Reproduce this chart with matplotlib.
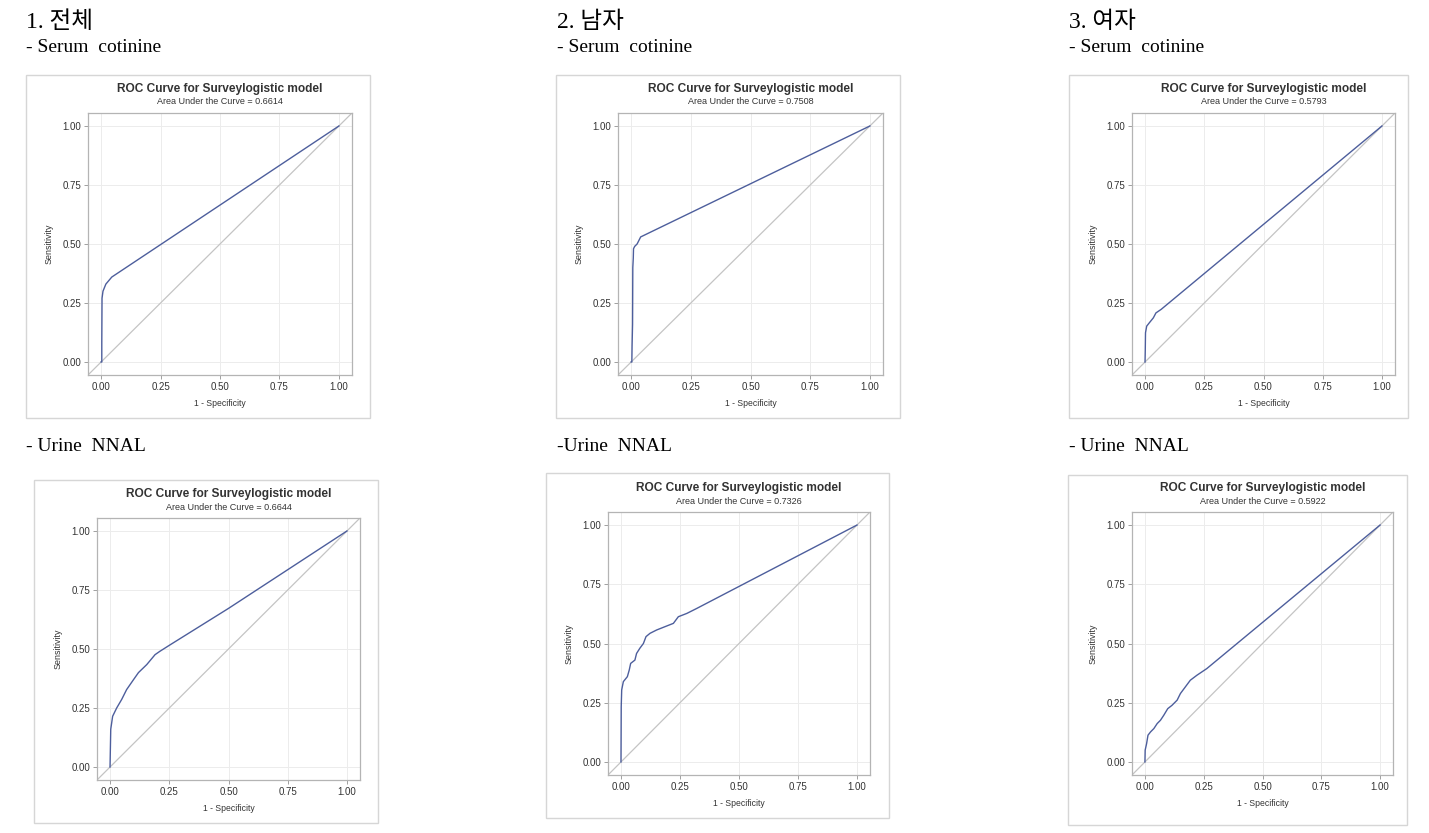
import matplotlib
matplotlib.use("Agg")
import matplotlib.pyplot as plt
from matplotlib.patches import Rectangle

W, H = 1429, 833

# ---- data ----
headers = ["1. 전체", "2. 남자", "3. 여자"]
serum_labels = ["- Serum  cotinine", "- Serum  cotinine", "- Serum  cotinine"]
urine_labels = ["- Urine  NNAL", "-Urine  NNAL", "- Urine  NNAL"]
auc_values = ["0.6614", "0.7508", "0.5793", "0.6644", "0.7326", "0.5922"]

serum_total_fpr = [0, 0.003, 0.003, 0.004, 0.008, 0.02, 0.045, 1.0]
serum_total_tpr = [0, 0.0, 0.08, 0.27, 0.30, 0.33, 0.36, 1.0]

serum_male_fpr = [0, 0.003, 0.004, 0.006, 0.007, 0.009, 0.01, 0.015, 0.025, 0.035, 0.04, 1.0]
serum_male_tpr = [0, 0.0, 0.07, 0.16, 0.40, 0.44, 0.48, 0.49, 0.50, 0.52, 0.53, 1.0]

serum_female_fpr = [0, 0.001, 0.002, 0.007, 0.018, 0.035, 0.046, 0.068, 1.0]
serum_female_tpr = [0, 0.05, 0.124, 0.152, 0.166, 0.187, 0.208, 0.223, 1.0]

urine_total_fpr = [0, 0.003, 0.011, 0.028, 0.049, 0.07, 0.099, 0.12, 0.155, 0.19, 0.21, 0.254, 0.5, 0.75, 1.0]
urine_total_tpr = [0, 0.16, 0.215, 0.25, 0.286, 0.328, 0.37, 0.40, 0.434, 0.476, 0.49, 0.518, 0.672, 0.836, 1.0]

urine_male_fpr = [0, 0.001, 0.003, 0.01, 0.027, 0.035, 0.041, 0.059, 0.066, 0.08, 0.095, 0.106,
                  0.123, 0.151, 0.194, 0.222, 0.243, 0.279, 0.321, 1.0]
urine_male_tpr = [0, 0.233, 0.304, 0.339, 0.36, 0.388, 0.416, 0.43, 0.458, 0.48, 0.50, 0.529,
                  0.543, 0.557, 0.574, 0.585, 0.613, 0.627, 0.648, 1.0]

urine_female_fpr = [0, 0.001, 0.007, 0.013, 0.024, 0.038, 0.052, 0.066, 0.08, 0.097, 0.115, 0.137,
                    0.151, 0.172, 0.193, 0.221, 0.263, 1.0]
urine_female_tpr = [0, 0.05, 0.077, 0.113, 0.127, 0.141, 0.162, 0.176, 0.197, 0.225, 0.239, 0.261,
                    0.289, 0.317, 0.345, 0.366, 0.394, 1.0]

curves = [
    (serum_total_fpr, serum_total_tpr),
    (serum_male_fpr, serum_male_tpr),
    (serum_female_fpr, serum_female_tpr),
    (urine_total_fpr, urine_total_tpr),
    (urine_male_fpr, urine_male_tpr),
    (urine_female_fpr, urine_female_tpr),
]

ticks = [0, 0.25, 0.5, 0.75, 1.0]
tick_labels = ["0.00", "0.25", "0.50", "0.75", "1.00"]

# ---- layout (pixels) ----
frames = [(26, 75, 370, 418), (556, 75, 900, 418), (1069, 75, 1408, 418),
          (34, 480, 378, 823), (546, 473, 889, 818), (1068, 475, 1407, 825)]
axes_boxes = [(88, 113, 352, 375), (618, 113, 883, 375), (1132, 113, 1395, 375),
              (97, 518, 360, 780), (608, 512, 870, 775), (1132, 512, 1393, 775)]

sans = ["Liberation Sans", "DejaVu Sans"]
serif = ["Liberation Serif", "Noto Sans CJK KR", "DejaVu Sans"]

fig = plt.figure(figsize=(W / 100, H / 100), dpi=100)


def fx(px):
    return px / W


def fy(py):
    return 1 - py / H


# headers
col_x = [26, 557, 1069]
for i in range(3):
    fig.text(fx(col_x[i]), fy(22), headers[i], family=serif, fontsize=17,
             va="center", ha="left", color="black")
    fig.text(fx(col_x[i]), fy(48), serum_labels[i], family=serif, fontsize=14,
             va="center", ha="left", color="black")
    fig.text(fx(col_x[i]), fy(447), urine_labels[i], family=serif, fontsize=14,
             va="center", ha="left", color="black")

lo, hi = -0.055, 1.055
for k in range(6):
    l, t, r, b = frames[k]
    fig.patches.append(Rectangle((fx(l), fy(b)), (r - l) / W, (b - t) / H,
                                 transform=fig.transFigure, fill=False,
                                 edgecolor="#d6d6d6", linewidth=1.0))
    l, t, r, b = axes_boxes[k]
    ax = fig.add_axes([fx(l), fy(b), (r - l) / W, (b - t) / H])
    ax.set_xlim(lo, hi)
    ax.set_ylim(lo, hi)
    ax.set_xticks(ticks)
    ax.set_yticks(ticks)
    ax.set_xticklabels(tick_labels)
    ax.set_yticklabels(tick_labels)
    ax.grid(True, color="#ececec", linewidth=0.7)
    ax.set_axisbelow(True)
    for s in ax.spines.values():
        s.set_color("#b4b4b4")
        s.set_linewidth(0.9)
    ax.tick_params(length=3, width=0.6, color="#909090", labelsize=7,
                   labelcolor="#333333", pad=2)
    for lab in ax.get_xticklabels() + ax.get_yticklabels():
        lab.set_family(sans)
    ax.axline((0, 0), slope=1, color="#c4c4c4", linewidth=0.9)
    fpr, tpr = curves[k]
    ax.plot(fpr, tpr, color="#4d5e9c", linewidth=1.0)
    ax.set_xlabel("1 - Specificity", family=sans, fontsize=6.2, color="#333333", labelpad=5)
    ax.set_ylabel("Sensitivity", family=sans, fontsize=6.4, color="#333333", labelpad=6)
    cx = (l + r) / 2
    fig.text(fx(cx), fy(t - 24), "ROC Curve for Surveylogistic model", family=sans,
             fontsize=8.6, fontweight="bold", ha="center", va="center", color="#333333")
    fig.text(fx(cx), fy(t - 11), "Area Under the Curve = " + auc_values[k], family=sans,
             fontsize=6.5, ha="center", va="center", color="#333333")

fig.savefig("out.png", dpi=100, facecolor="white")
